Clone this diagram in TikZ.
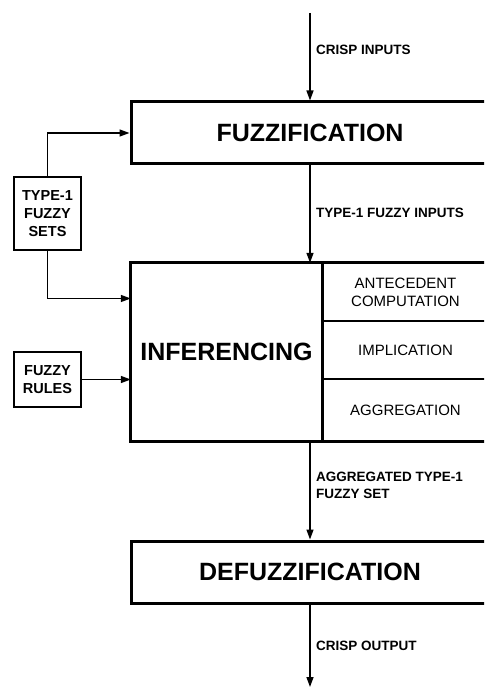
\documentclass[tikz,border=0pt]{standalone}
\usepackage{fontspec}
\setmainfont{Liberation Sans}
\usetikzlibrary{arrows.meta,calc}
\begin{document}
\begin{tikzpicture}[x=1pt,y=-1pt,
  bigbox/.style={draw,line width=3pt,minimum width=358pt,minimum height=62pt,
    font=\fontsize{25}{28}\selectfont\bfseries},
  cell/.style={minimum width=167pt,minimum height=58pt,align=center,
    font=\fontsize{15}{18}\selectfont},
  smallbox/.style={draw,line width=1.5pt,minimum width=67pt,align=center,
    inner sep=2pt,font=\fontsize{14.5}{18}\selectfont\bfseries},
  flow/.style={line width=1.4pt,-{Triangle[length=10pt,width=7pt]}},
  lbl/.style={anchor=west,align=left,inner sep=0pt,
    font=\fontsize{13.5}{17}\selectfont\bfseries}]
\useasboundingbox (0,0) rectangle (484,687);
\clip (0,0) rectangle (484,687);

% main processing blocks
\node[bigbox] (fuzz) at (310,133) {FUZZIFICATION};
\node[minimum width=191pt,minimum height=178pt,
  font=\fontsize{25}{28}\selectfont\bfseries] (inf) at (226.5,352) {INFERENCING};
\node[cell] (ante) at (405.5,292) {ANTECEDENT\\COMPUTATION};
\node[cell] (impl) at (405.5,350) {IMPLICATION};
\node[cell,minimum height=62pt] (aggr) at (405.5,410) {AGGREGATION};
\node[bigbox] (defuzz) at (310,572) {DEFUZZIFICATION};

% inferencing frame and its sub-cells
\draw[line width=1.8pt] (ante.south west) -- (ante.south east);
\draw[line width=1.8pt] (impl.south west) -- (impl.south east);
\draw[line width=3pt] (inf.north east) -- (inf.south east);
\draw[line width=3pt] (inf.north west) rectangle (aggr.south east);

% side inputs
\node[smallbox,minimum height=73pt] (sets) at (47.5,213.5) {TYPE-1\\FUZZY\\SETS};
\node[smallbox,minimum height=55pt] (rules) at (47.5,379.5) {FUZZY\\RULES};

% free ends of the main flow
\coordinate (in) at (310,13);
\coordinate (out) at (310,687);

% connectors
\draw[flow] (in) -- (fuzz.north);
\draw[flow] (fuzz.south) -- (fuzz.south |- inf.north);
\draw[flow] (defuzz.north |- inf.south) -- (defuzz.north);
\draw[flow] (defuzz.south) -- (out);
\draw[flow] (sets.north) |- (fuzz.west);
\draw[flow] (sets.south) |- ($(inf.north west)!0.2!(inf.south west)$);
\draw[flow] (rules.east) -- (rules.east -| inf.west);

% connector labels
\node[lbl] (l1) at (316,50) {CRISP INPUTS};
\node[lbl] (l2) at (316,213) {TYPE-1 FUZZY INPUTS};
\node[lbl] (l3) at (316,485.5) {AGGREGATED TYPE-1\\FUZZY SET};
\node[lbl] (l4) at (316,646) {CRISP OUTPUT};
\end{tikzpicture}
\end{document}
